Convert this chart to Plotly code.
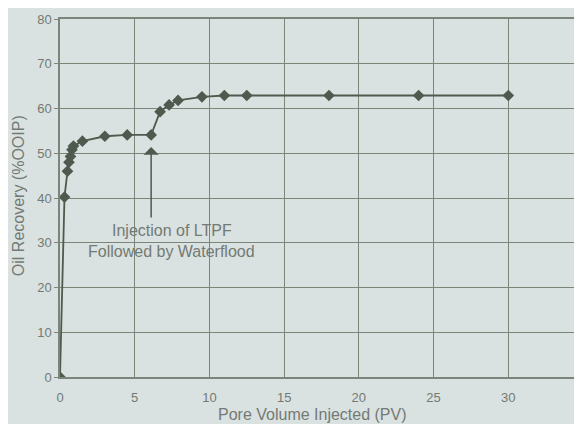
import plotly.graph_objects as go

pv = [0, 0.3, 0.5, 0.6, 0.7, 0.8, 0.9, 1.5, 3.0, 4.5, 6.1, 6.7, 7.3, 7.9, 9.5, 11.0, 12.5, 18.0, 24.0, 30.0]
recovery = [0, 40.2, 46.0, 48.0, 49.3, 50.8, 51.6, 52.7, 53.8, 54.1, 54.1, 59.3, 60.8, 61.8, 62.6, 62.9, 62.9, 62.9, 62.9, 62.9]

x_ticks = [0, 5, 10, 15, 20, 25, 30]
y_ticks = [0, 10, 20, 30, 40, 50, 60, 70, 80]

line_col = "#4f5a4e"
grid_col = "#7b8579"
text_col = "#737a73"
bg = "#dae1e1"
fam = "Liberation Sans, Arial"

fig = go.Figure()
fig.add_trace(go.Scatter(
    x=pv, y=recovery, mode="lines+markers",
    line=dict(color=line_col, width=1.8),
    marker=dict(symbol="diamond", size=9, color=line_col),
    showlegend=False,
))

fig.add_annotation(
    x=6.1, y=51.4, ax=6.1, ay=35.3, xref="x", yref="y", axref="x", ayref="y",
    text="", showarrow=True, arrowhead=1, arrowsize=1.7, arrowwidth=1.5,
    arrowcolor=line_col,
)
for txt, yy in [("Injection of LTPF", 32.85), ("Followed by Waterflood", 27.95)]:
    fig.add_annotation(
        x=7.47, y=yy, xref="x", yref="y", showarrow=False, text=txt,
        font=dict(family=fam, size=16, color=text_col),
        align="center",
    )

# axis titles
fig.add_annotation(
    x=16.9, y=-0.1034, xref="x", yref="paper", showarrow=False,
    text="Pore Volume Injected (PV)", xanchor="center", yanchor="middle",
    font=dict(family=fam, size=16, color=text_col),
)
fig.add_annotation(
    x=-0.0785, y=0.5056, xref="paper", yref="paper", showarrow=False,
    text="Oil Recovery (%OOIP)", textangle=-90, xanchor="center", yanchor="middle",
    font=dict(family=fam, size=16, color=text_col),
)

fig.update_layout(
    width=574, height=416,
    margin=dict(l=52, r=0, t=11, b=47),
    paper_bgcolor=bg, plot_bgcolor=bg,
    font=dict(family=fam, color=text_col),
    xaxis=dict(
        range=[0, 34.8], tickvals=x_ticks, ticktext=[str(v) for v in x_ticks],
        showgrid=True, gridcolor=grid_col, gridwidth=1,
        zeroline=False, showline=True, linecolor=grid_col, linewidth=1.5,
        ticks="", ticklabelstandoff=8, tickfont=dict(size=13, color=text_col),
        mirror=True,
    ),
    yaxis=dict(
        range=[0, 80], tickvals=y_ticks,
        showgrid=True, gridcolor=grid_col, gridwidth=1,
        zeroline=False, showline=True, linecolor=grid_col, linewidth=1.5,
        ticks="outside", ticklen=4, tickcolor=grid_col,
        tickfont=dict(size=13, color=text_col),
        mirror=True,
    ),
)

fig.write_html("out.html")
